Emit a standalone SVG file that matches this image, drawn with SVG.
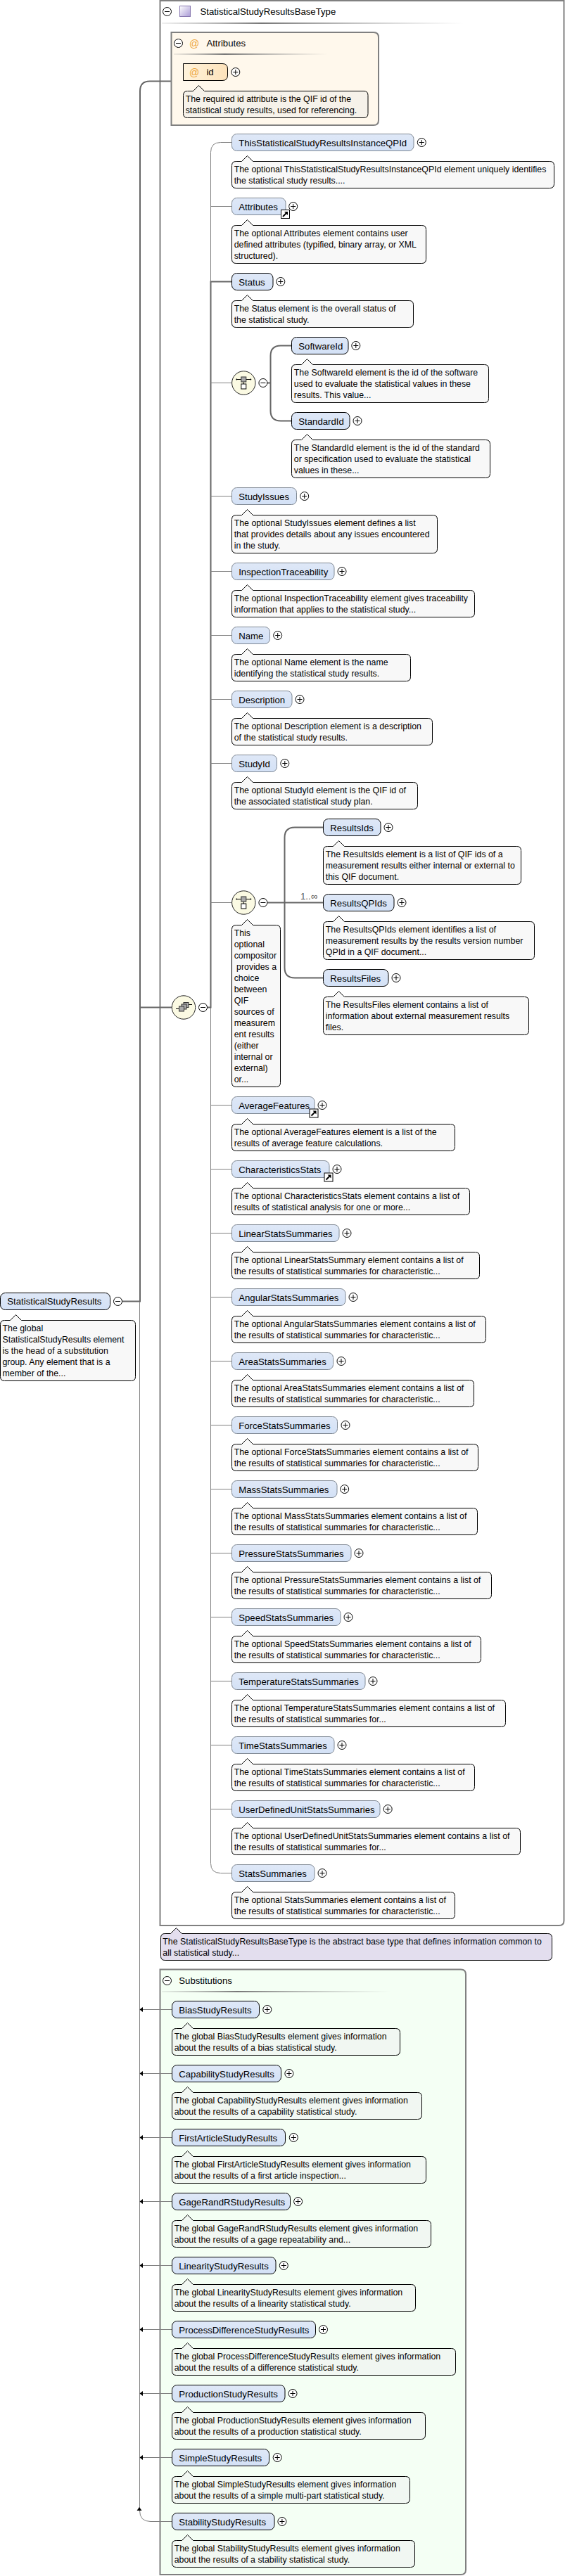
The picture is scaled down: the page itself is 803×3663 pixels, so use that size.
<svg xmlns="http://www.w3.org/2000/svg" width="803" height="3663" viewBox="0 0 803 3663">
<style>
text{font-family:"Liberation Sans",Arial,sans-serif;font-size:13.2px;fill:#000}
path[class^=doc] ~ text{font-size:12.35px}
.el{fill:url(#elg);stroke:#7f8893;stroke-width:1}
.req{fill:url(#elg);stroke:#000;stroke-width:1}
.doc{fill:#f8f8f8;stroke:#000;stroke-width:1}
.doca{fill:#f6f2ea;stroke:#000;stroke-width:1}
.docs{fill:#f1f7f2;stroke:#000;stroke-width:1}
.docp{fill:#e3deee;stroke:#000;stroke-width:1}
.box{stroke:#808080;stroke-width:2}
.thin{fill:none;stroke:#808080;stroke-width:1}
.thick{fill:none;stroke:#666;stroke-width:2}
.comp{fill:#fbfae3;stroke:#222;stroke-width:1}
.at{fill:#eda53c;font-size:14px;text-anchor:middle}
.card{fill:#555}
</style>
<defs>
<linearGradient id="elg" x1="0" y1="0" x2="0" y2="1"><stop offset="0" stop-color="#dfe8f7"/><stop offset="1" stop-color="#d3e1f6"/></linearGradient>
<linearGradient id="atg" x1="0" y1="0" x2="1" y2="0"><stop offset="0" stop-color="#fff3dc"/><stop offset="1" stop-color="#fde2ba"/></linearGradient>
<linearGradient id="ico" x1="0" y1="0" x2="1" y2="1"><stop offset="0" stop-color="#fff"/><stop offset="1" stop-color="#a99ad6"/></linearGradient>
<linearGradient id="rule" x1="0" y1="0" x2="1" y2="0"><stop offset="0" stop-color="#999" stop-opacity=".15"/><stop offset=".33" stop-color="#777"/><stop offset="1" stop-color="#aaa" stop-opacity="0"/></linearGradient>
<g id="plus"><circle r="6" fill="#fff" stroke="#000"/><path d="M-3.5 0H3.5M0-3.5V3.5" stroke="#000" fill="none"/></g>
<g id="minus"><circle r="6" fill="#fff" stroke="#000"/><path d="M-3.5 0H3.5" stroke="#000" fill="none"/></g>
<g id="link"><rect x=".5" y=".5" width="12" height="12" fill="#fff" stroke="#000"/><path d="M3 10L8 5" stroke="#000" stroke-width="2" fill="none"/><path d="M5 3H10V8Z" fill="#000"/></g>
<g id="seqico"><ellipse rx="16.7" ry="16.7" class="comp"/><path d="M-10-5H10" stroke="#000"/><path d="M0 -1V2" stroke="#000"/><rect x="-3.5" y="-8.5" width="7" height="7" fill="#aaa" stroke="#333"/><rect x="-3.5" y="1.5" width="7" height="7" fill="#fff" stroke="#000"/><circle cx="-10" cy="-5" r="1" fill="#000"/><circle cx="10" cy="-5" r="1" fill="#000"/></g>
<g id="mainico"><ellipse rx="16.7" ry="16.7" class="comp"/><path d="M-11 2H-6M6-4H12" stroke="#000"/><rect x="0" y="-7" width="7" height="7" fill="#aaa" stroke="#333"/><rect x="-3" y="-4.5" width="7" height="7" fill="#aaa" stroke="#333"/><rect x="-6.5" y="-1.5" width="7" height="7" fill="#aaa" stroke="#333"/></g>
<path id="arr" d="M0 0L4.5-3.5V3.5Z" fill="#000"/>
</defs>

<g id="boxes">
<g id="type-box"><path class="box" fill="#fff" d="M227.5 1H801.5V2731Q801.5 2738 794.5 2738H227.5Z"/>
<use href="#minus" x="237.5" y="16.5"/>
<rect x="255.5" y="8.5" width="15" height="15" fill="url(#ico)" stroke="#8878b0"/>
<text x="284.5" y="21">StatisticalStudyResultsBaseType</text>
<rect x="230" y="32" width="430" height="2" fill="url(#rule)"/></g>
<g id="subst-box"><path class="box" fill="#f4fff4" d="M227.5 2800.5H655Q662 2800.5 662 2807.5V3654Q662 3661 655 3661H227.5Z"/>
<use href="#minus" x="237.5" y="2816.5"/>
<text x="254.3" y="2821">Substitutions</text>
<rect x="230" y="2831" width="325" height="2" fill="url(#rule)"/></g>
</g>

<g id="connectors">
<path class="thick" d="M243 115.5H213Q199 115.5 199 129.5V1850.5H173"/>
<path class="thick" stroke="#777" d="M199 1432.5H244"/>
<path class="thin" d="M198.5 1851V3570"/>
<path class="thin" d="M330 202.5H313.5Q299.5 202.5 299.5 216.5V2649.5Q299.5 2663.5 313.5 2663.5H330"/>
<path class="thick" d="M330 400.5H299.5V1432.5H294"/>
<path class="thin" d="M299.5 293.5H330M299.5 544.5H330M299.5 705.5H330M299.5 812.5H330M299.5 903.5H330M299.5 994.5H330M299.5 1085.5H330M299.5 1283.5H330M299.5 1571.5H330M299.5 1662.5H330M299.5 1753.5H330M299.5 1844.5H330M299.5 1935.5H330M299.5 2026.5H330M299.5 2117.5H330M299.5 2208.5H330M299.5 2299.5H330M299.5 2390.5H330M299.5 2481.5H330M299.5 2572.5H330"/>
<path class="thick" d="M415 491.5H399Q384.5 491.5 384.5 506V584Q384.5 598.5 399 598.5H415M380 544.5H384.5"/>
<path class="thick" d="M460 1176.5H419Q404.5 1176.5 404.5 1191V1376Q404.5 1390.5 419 1390.5H460M380 1283.5H460"/>
<path class="thin" d="M203 2857.5H244.5M203 2948.5H244.5M203 3039.5H244.5M203 3130.5H244.5M203 3221.5H244.5M203 3312.5H244.5M203 3403.5H244.5M203 3494.5H244.5"/>
<path class="thin" d="M198.5 3570Q198.5 3585.5 214 3585.5H244.5"/>
<use href="#arr" x="198.5" y="2857.5"/><use href="#arr" x="198.5" y="2948.5"/><use href="#arr" x="198.5" y="3039.5"/><use href="#arr" x="198.5" y="3130.5"/><use href="#arr" x="198.5" y="3221.5"/><use href="#arr" x="198.5" y="3312.5"/><use href="#arr" x="198.5" y="3403.5"/><use href="#arr" x="198.5" y="3494.5"/>
<path d="M198 3565L194.5 3570H201.5Z" fill="#000"/>
<text class="card" x="427" y="1279">1..∞</text>
</g>

<g id="n-root"><rect class="req" x="0.5" y="1838.5" width="156" height="24" rx="7"/><text x="10.3" y="1855">StatisticalStudyResults</text><use href="#minus" x="167.5" y="1850.5"/>
<path class="doc" d="M6.5 1877.5h8l8-8 8 8H186.5q6 0 6 6v74q0 6-6 6H6.5q-6 0-6-6v-74q0-6 6-6z"/><text x="3.5" y="1892.5">The global</text><text x="3.5" y="1908.5">StatisticalStudyResults element</text><text x="3.5" y="1924.5">is the head of a substitution</text><text x="3.5" y="1940.5">group. Any element that is a</text><text x="3.5" y="1956.5">member of the...</text></g>

<g id="n-attributes-box"><path class="box" fill="#fff8ec" d="M243.5 46H531Q538 46 538 53V171Q538 178 531 178H243.5Z"/>
<use href="#minus" x="253.5" y="61.5"/><text class="at" x="276" y="67">@</text><text x="293.4" y="66">Attributes</text>
<rect x="247" y="76" width="219" height="2" fill="url(#rule)"/></g>
<g id="n-id"><path fill="url(#atg)" stroke="#000" d="M260.5 90.5H316Q323.5 90.5 323.5 98V107Q323.5 114.5 316 114.5H260.5Z"/><text class="at" x="276" y="108">@</text><text x="293.4" y="107">id</text><use href="#plus" x="334.8" y="102.5"/>
<path class="doca" d="M266.5 129.5h8l8-8 8 8H517q6 0 6 6v26q0 6-6 6H266.5q-6 0-6-6v-26q0-6 6-6z"/><text x="263.7" y="144.5">The required id attribute is the QIF id of the</text><text x="263.7" y="160.5">statistical study results, used for referencing.</text></g>

<g id="n-this"><rect class="el" x="329.5" y="190.5" width="258.5" height="24" rx="7"/><text x="339.2" y="207.5">ThisStatisticalStudyResultsInstanceQPId</text><use href="#plus" x="599.3" y="202.5"/>
<path class="doc" d="M335.5 229.5h8l8-8 8 8H781.5q6 0 6 6v26q0 6-6 6H335.5q-6 0-6-6v-26q0-6 6-6z"/><text x="332.7" y="244.5">The optional ThisStatisticalStudyResultsInstanceQPId element uniquely identifies</text><text x="332.7" y="260.5">the statistical study results....</text></g>
<g id="n-attributes"><rect class="el" x="329.5" y="281.5" width="76.5" height="24" rx="7"/><text x="339.2" y="298.5">Attributes</text><use href="#plus" x="416.7" y="293.5"/><use href="#link" x="399" y="298"/>
<path class="doc" d="M335.5 320.5h8l8-8 8 8H599.5q6 0 6 6v42q0 6-6 6H335.5q-6 0-6-6v-42q0-6 6-6z"/><text x="332.7" y="335.5">The optional Attributes element contains user</text><text x="332.7" y="351.5">defined attributes (typified, binary array, or XML</text><text x="332.7" y="367.5">structured).</text></g>
<g id="n-status"><rect class="req" x="329.5" y="388.5" width="58.5" height="24" rx="7"/><text x="339.2" y="405.5">Status</text><use href="#plus" x="398.8" y="400.5"/>
<path class="doc" d="M335.5 427.5h8l8-8 8 8H581.5q6 0 6 6v26q0 6-6 6H335.5q-6 0-6-6v-26q0-6 6-6z"/><text x="332.7" y="442.5">The Status element is the overall status of</text><text x="332.7" y="458.5">the statistical study.</text></g>
<g id="n-comp1"><use href="#seqico" x="346.3" y="544.5"/><use href="#minus" x="373.9" y="544.5"/></g>
<g id="n-softwareid"><rect class="req" x="414.5" y="479.5" width="80.5" height="24" rx="7"/><text x="424.3" y="496.5">SoftwareId</text><use href="#plus" x="505.8" y="491.5"/>
<path class="doc" d="M420.5 518.5h8l8-8 8 8H688.5q6 0 6 6v42q0 6-6 6H420.5q-6 0-6-6v-42q0-6 6-6z"/><text x="417.8" y="533.5">The SoftwareId element is the id of the software</text><text x="417.8" y="549.5">used to evaluate the statistical values in these</text><text x="417.8" y="565.5">results. This value...</text></g>
<g id="n-standardid"><rect class="req" x="414.5" y="586.5" width="82.5" height="24" rx="7"/><text x="424.3" y="603.5">StandardId</text><use href="#plus" x="508" y="598.5"/>
<path class="doc" d="M420.5 625.5h8l8-8 8 8H690.5q6 0 6 6v42q0 6-6 6H420.5q-6 0-6-6v-42q0-6 6-6z"/><text x="417.8" y="640.5">The StandardId element is the id of the standard</text><text x="417.8" y="656.5">or specification used to evaluate the statistical</text><text x="417.8" y="672.5">values in these...</text></g>
<g id="n-studyissues"><rect class="el" x="329.5" y="693.5" width="92" height="24" rx="7"/><text x="339.2" y="710.5">StudyIssues</text><use href="#plus" x="432.7" y="705.5"/>
<path class="doc" d="M335.5 732.5h8l8-8 8 8H615.5q6 0 6 6v42q0 6-6 6H335.5q-6 0-6-6v-42q0-6 6-6z"/><text x="332.7" y="747.5">The optional StudyIssues element defines a list</text><text x="332.7" y="763.5">that provides details about any issues encountered</text><text x="332.7" y="779.5">in the study.</text></g>
<g id="n-inspectiontraceability"><rect class="el" x="329.5" y="800.5" width="145.5" height="24" rx="7"/><text x="339.2" y="817.5">InspectionTraceability</text><use href="#plus" x="486" y="812.5"/>
<path class="doc" d="M335.5 839.5h8l8-8 8 8H668.5q6 0 6 6v26q0 6-6 6H335.5q-6 0-6-6v-26q0-6 6-6z"/><text x="332.7" y="854.5">The optional InspectionTraceability element gives traceability</text><text x="332.7" y="870.5">information that applies to the statistical study...</text></g>
<g id="n-name"><rect class="el" x="329.5" y="891.5" width="54" height="24" rx="7"/><text x="339.2" y="908.5">Name</text><use href="#plus" x="394.7" y="903.5"/>
<path class="doc" d="M335.5 930.5h8l8-8 8 8H577.5q6 0 6 6v26q0 6-6 6H335.5q-6 0-6-6v-26q0-6 6-6z"/><text x="332.7" y="945.5">The optional Name element is the name</text><text x="332.7" y="961.5">identifying the statistical study results.</text></g>
<g id="n-description"><rect class="el" x="329.5" y="982.5" width="85.5" height="24" rx="7"/><text x="339.2" y="999.5">Description</text><use href="#plus" x="426" y="994.5"/>
<path class="doc" d="M335.5 1021.5h8l8-8 8 8H608.5q6 0 6 6v26q0 6-6 6H335.5q-6 0-6-6v-26q0-6 6-6z"/><text x="332.7" y="1036.5">The optional Description element is a description</text><text x="332.7" y="1052.5">of the statistical study results.</text></g>
<g id="n-studyid"><rect class="el" x="329.5" y="1073.5" width="64" height="24" rx="7"/><text x="339.2" y="1090.5">StudyId</text><use href="#plus" x="404.8" y="1085.5"/>
<path class="doc" d="M335.5 1112.5h8l8-8 8 8H587.5q6 0 6 6v26q0 6-6 6H335.5q-6 0-6-6v-26q0-6 6-6z"/><text x="332.7" y="1127.5">The optional StudyId element is the QIF id of</text><text x="332.7" y="1143.5">the associated statistical study plan.</text></g>
<g id="n-comp2"><use href="#seqico" x="346.3" y="1283.5"/><use href="#minus" x="373.9" y="1283.5"/>
<path class="doc" d="M335.5 1315.5h8l8-8 8 8H392.5q6 0 6 6v218q0 6-6 6H335.5q-6 0-6-6v-218q0-6 6-6z"/><text x="332.7" y="1330.5">This</text><text x="332.7" y="1346.5">optional</text><text x="332.7" y="1362.5">compositor</text><text x="332.7" y="1378.5" xml:space="preserve"> provides a</text><text x="332.7" y="1394.5">choice</text><text x="332.7" y="1410.5">between</text><text x="332.7" y="1426.5">QIF</text><text x="332.7" y="1442.5">sources of</text><text x="332.7" y="1458.5">measurem</text><text x="332.7" y="1474.5">ent results</text><text x="332.7" y="1490.5">(either</text><text x="332.7" y="1506.5">internal or</text><text x="332.7" y="1522.5">external)</text><text x="332.7" y="1538.5">or...</text></g>
<g id="n-resultsids"><rect class="req" x="459.5" y="1164.5" width="81.5" height="24" rx="7"/><text x="469.3" y="1181.5">ResultsIds</text><use href="#plus" x="552" y="1176.5"/>
<path class="doc" d="M465.5 1203.5h8l8-8 8 8H734.5q6 0 6 6v42q0 6-6 6H465.5q-6 0-6-6v-42q0-6 6-6z"/><text x="462.8" y="1218.5">The ResultsIds element is a list of QIF ids of a</text><text x="462.8" y="1234.5">measurement results either internal or external to</text><text x="462.8" y="1250.5">this QIF document.</text></g>
<g id="n-resultsqpids"><rect class="req" x="459.5" y="1271.5" width="100.5" height="24" rx="7"/><text x="469.3" y="1288.5">ResultsQPIds</text><use href="#plus" x="571" y="1283.5"/>
<path class="doc" d="M465.5 1310.5h8l8-8 8 8H753.5q6 0 6 6v42q0 6-6 6H465.5q-6 0-6-6v-42q0-6 6-6z"/><text x="462.8" y="1325.5">The ResultsQPIds element identifies a list of</text><text x="462.8" y="1341.5">measurement results by the results version number</text><text x="462.8" y="1357.5">QPId in a QIF document...</text></g>
<g id="n-resultsfiles"><rect class="req" x="459.5" y="1378.5" width="92.5" height="24" rx="7"/><text x="469.3" y="1395.5">ResultsFiles</text><use href="#plus" x="563" y="1390.5"/>
<path class="doc" d="M465.5 1417.5h8l8-8 8 8H745.5q6 0 6 6v42q0 6-6 6H465.5q-6 0-6-6v-42q0-6 6-6z"/><text x="462.8" y="1432.5">The ResultsFiles element contains a list of</text><text x="462.8" y="1448.5">information about external measurement results</text><text x="462.8" y="1464.5">files.</text></g>
<g id="n-main-comp"><use href="#mainico" x="261" y="1432.5"/><use href="#minus" x="288.5" y="1432.5"/></g>
<g id="n-averagefeatures"><rect class="el" x="329.5" y="1559.5" width="117.5" height="24" rx="7"/><text x="339.2" y="1576.5">AverageFeatures</text><use href="#plus" x="458" y="1571.5"/><use href="#link" x="439.5" y="1576.5"/>
<path class="doc" d="M335.5 1598.5h8l8-8 8 8H640.5q6 0 6 6v26q0 6-6 6H335.5q-6 0-6-6v-26q0-6 6-6z"/><text x="332.7" y="1613.5">The optional AverageFeatures element is a list of the</text><text x="332.7" y="1629.5">results of average feature calculations.</text></g>
<g id="n-characteristicsstats"><rect class="el" x="329.5" y="1650.5" width="138.5" height="24" rx="7"/><text x="339.2" y="1667.5">CharacteristicsStats</text><use href="#plus" x="479" y="1662.5"/><use href="#link" x="460.5" y="1667.5"/>
<path class="doc" d="M335.5 1689.5h8l8-8 8 8H661.5q6 0 6 6v26q0 6-6 6H335.5q-6 0-6-6v-26q0-6 6-6z"/><text x="332.7" y="1704.5">The optional CharacteristicsStats element contains a list of</text><text x="332.7" y="1720.5">results of statistical analysis for one or more...</text></g>
<g id="n-linear"><rect class="el" x="329.5" y="1741.5" width="152.5" height="24" rx="7"/><text x="339.2" y="1758.5">LinearStatsSummaries</text><use href="#plus" x="493" y="1753.5"/>
<path class="doc" d="M335.5 1780.5h8l8-8 8 8H675.5q6 0 6 6v26q0 6-6 6H335.5q-6 0-6-6v-26q0-6 6-6z"/><text x="332.7" y="1795.5">The optional LinearStatsSummary element contains a list of</text><text x="332.7" y="1811.5">the results of statistical summaries for characteristic...</text></g>
<g id="n-angular"><rect class="el" x="329.5" y="1832.5" width="161.5" height="24" rx="7"/><text x="339.2" y="1849.5">AngularStatsSummaries</text><use href="#plus" x="502" y="1844.5"/>
<path class="doc" d="M335.5 1871.5h8l8-8 8 8H684.5q6 0 6 6v26q0 6-6 6H335.5q-6 0-6-6v-26q0-6 6-6z"/><text x="332.7" y="1886.5">The optional AngularStatsSummaries element contains a list of</text><text x="332.7" y="1902.5">the results of statistical summaries for characteristic...</text></g>
<g id="n-area"><rect class="el" x="329.5" y="1923.5" width="144" height="24" rx="7"/><text x="339.2" y="1940.5">AreaStatsSummaries</text><use href="#plus" x="485" y="1935.5"/>
<path class="doc" d="M335.5 1962.5h8l8-8 8 8H667.5q6 0 6 6v26q0 6-6 6H335.5q-6 0-6-6v-26q0-6 6-6z"/><text x="332.7" y="1977.5">The optional AreaStatsSummaries element contains a list of</text><text x="332.7" y="1993.5">the results of statistical summaries for characteristic...</text></g>
<g id="n-force"><rect class="el" x="329.5" y="2014.5" width="150" height="24" rx="7"/><text x="339.2" y="2031.5">ForceStatsSummaries</text><use href="#plus" x="491" y="2026.5"/>
<path class="doc" d="M335.5 2053.5h8l8-8 8 8H673.5q6 0 6 6v26q0 6-6 6H335.5q-6 0-6-6v-26q0-6 6-6z"/><text x="332.7" y="2068.5">The optional ForceStatsSummaries element contains a list of</text><text x="332.7" y="2084.5">the results of statistical summaries for characteristic...</text></g>
<g id="n-mass"><rect class="el" x="329.5" y="2105.5" width="149.5" height="24" rx="7"/><text x="339.2" y="2122.5">MassStatsSummaries</text><use href="#plus" x="489.7" y="2117.5"/>
<path class="doc" d="M335.5 2144.5h8l8-8 8 8H672.5q6 0 6 6v26q0 6-6 6H335.5q-6 0-6-6v-26q0-6 6-6z"/><text x="332.7" y="2159.5">The optional MassStatsSummaries element contains a list of</text><text x="332.7" y="2175.5">the results of statistical summaries for characteristic...</text></g>
<g id="n-pressure"><rect class="el" x="329.5" y="2196.5" width="169.5" height="24" rx="7"/><text x="339.2" y="2213.5">PressureStatsSummaries</text><use href="#plus" x="510" y="2208.5"/>
<path class="doc" d="M335.5 2235.5h8l8-8 8 8H692.5q6 0 6 6v26q0 6-6 6H335.5q-6 0-6-6v-26q0-6 6-6z"/><text x="332.7" y="2250.5">The optional PressureStatsSummaries element contains a list of</text><text x="332.7" y="2266.5">the results of statistical summaries for characteristic...</text></g>
<g id="n-speed"><rect class="el" x="329.5" y="2287.5" width="154.5" height="24" rx="7"/><text x="339.2" y="2304.5">SpeedStatsSummaries</text><use href="#plus" x="495" y="2299.5"/>
<path class="doc" d="M335.5 2326.5h8l8-8 8 8H677.5q6 0 6 6v26q0 6-6 6H335.5q-6 0-6-6v-26q0-6 6-6z"/><text x="332.7" y="2341.5">The optional SpeedStatsSummaries element contains a list of</text><text x="332.7" y="2357.5">the results of statistical summaries for characteristic...</text></g>
<g id="n-temperature"><rect class="el" x="329.5" y="2378.5" width="189.5" height="24" rx="7"/><text x="339.2" y="2395.5">TemperatureStatsSummaries</text><use href="#plus" x="530" y="2390.5"/>
<path class="doc" d="M335.5 2417.5h8l8-8 8 8H712.5q6 0 6 6v26q0 6-6 6H335.5q-6 0-6-6v-26q0-6 6-6z"/><text x="332.7" y="2432.5">The optional TemperatureStatsSummaries element contains a list of</text><text x="332.7" y="2448.5">the results of statistical summaries for...</text></g>
<g id="n-time"><rect class="el" x="329.5" y="2469.5" width="145.5" height="24" rx="7"/><text x="339.2" y="2486.5">TimeStatsSummaries</text><use href="#plus" x="486" y="2481.5"/>
<path class="doc" d="M335.5 2508.5h8l8-8 8 8H668.5q6 0 6 6v26q0 6-6 6H335.5q-6 0-6-6v-26q0-6 6-6z"/><text x="332.7" y="2523.5">The optional TimeStatsSummaries element contains a list of</text><text x="332.7" y="2539.5">the results of statistical summaries for characteristic...</text></g>
<g id="n-userdefined"><rect class="el" x="329.5" y="2560.5" width="210.5" height="24" rx="7"/><text x="339.2" y="2577.5">UserDefinedUnitStatsSummaries</text><use href="#plus" x="551.2" y="2572.5"/>
<path class="doc" d="M335.5 2599.5h8l8-8 8 8H733.5q6 0 6 6v26q0 6-6 6H335.5q-6 0-6-6v-26q0-6 6-6z"/><text x="332.7" y="2614.5">The optional UserDefinedUnitStatsSummaries element contains a list of</text><text x="332.7" y="2630.5">the results of statistical summaries for...</text></g>
<g id="n-stats"><rect class="el" x="329.5" y="2651.5" width="117.5" height="24" rx="7"/><text x="339.2" y="2668.5">StatsSummaries</text><use href="#plus" x="458" y="2663.5"/>
<path class="doc" d="M335.5 2690.5h8l8-8 8 8H640.5q6 0 6 6v26q0 6-6 6H335.5q-6 0-6-6v-26q0-6 6-6z"/><text x="332.7" y="2705.5">The optional StatsSummaries element contains a list of</text><text x="332.7" y="2721.5">the results of statistical summaries for characteristic...</text></g>
<g id="n-type-doc"><path class="docp" d="M234.5 2749.5h8l8-8 8 8H778.5q6 0 6 6v26q0 6-6 6H234.5q-6 0-6-6v-26q0-6 6-6z"/><text x="231.3" y="2764.5">The StatisticalStudyResultsBaseType is the abstract base type that defines information common to</text><text x="231.3" y="2780.5">all statistical study...</text></g>

<g id="n-bias"><rect class="req" x="244.5" y="2845.5" width="124" height="24" rx="7"/><text x="254.2" y="2862.5">BiasStudyResults</text><use href="#plus" x="379.8" y="2857.5"/>
<path class="docs" d="M250.5 2884.5h8l8-8 8 8H562.5q6 0 6 6v26q0 6-6 6H250.5q-6 0-6-6v-26q0-6 6-6z"/><text x="247.7" y="2899.5">The global BiasStudyResults element gives information</text><text x="247.7" y="2915.5">about the results of a bias statistical study.</text></g>
<g id="n-capability"><rect class="req" x="244.5" y="2936.5" width="155" height="24" rx="7"/><text x="254.2" y="2953.5">CapabilityStudyResults</text><use href="#plus" x="410.9" y="2948.5"/>
<path class="docs" d="M250.5 2975.5h8l8-8 8 8H593.5q6 0 6 6v26q0 6-6 6H250.5q-6 0-6-6v-26q0-6 6-6z"/><text x="247.7" y="2990.5">The global CapabilityStudyResults element gives information</text><text x="247.7" y="3006.5">about the results of a capability statistical study.</text></g>
<g id="n-firstarticle"><rect class="req" x="244.5" y="3027.5" width="161" height="24" rx="7"/><text x="254.2" y="3044.5">FirstArticleStudyResults</text><use href="#plus" x="417.3" y="3039.5"/>
<path class="docs" d="M250.5 3066.5h8l8-8 8 8H599.5q6 0 6 6v26q0 6-6 6H250.5q-6 0-6-6v-26q0-6 6-6z"/><text x="247.7" y="3081.5">The global FirstArticleStudyResults element gives information</text><text x="247.7" y="3097.5">about the results of a first article inspection...</text></g>
<g id="n-gagerandr"><rect class="req" x="244.5" y="3118.5" width="168" height="24" rx="7"/><text x="254.2" y="3135.5">GageRandRStudyResults</text><use href="#plus" x="423.6" y="3130.5"/>
<path class="docs" d="M250.5 3157.5h8l8-8 8 8H606.5q6 0 6 6v26q0 6-6 6H250.5q-6 0-6-6v-26q0-6 6-6z"/><text x="247.7" y="3172.5">The global GageRandRStudyResults element gives information</text><text x="247.7" y="3188.5">about the results of a gage repeatability and...</text></g>
<g id="n-linearity"><rect class="req" x="244.5" y="3209.5" width="147.5" height="24" rx="7"/><text x="254.2" y="3226.5">LinearityStudyResults</text><use href="#plus" x="403.3" y="3221.5"/>
<path class="docs" d="M250.5 3248.5h8l8-8 8 8H584.5q6 0 6 6v26q0 6-6 6H250.5q-6 0-6-6v-26q0-6 6-6z"/><text x="247.7" y="3263.5">The global LinearityStudyResults element gives information</text><text x="247.7" y="3279.5">about the results of a linearity statistical study.</text></g>
<g id="n-processdifference"><rect class="req" x="244.5" y="3300.5" width="204" height="24" rx="7"/><text x="254.2" y="3317.5">ProcessDifferenceStudyResults</text><use href="#plus" x="459.5" y="3312.5"/>
<path class="docs" d="M250.5 3339.5h8l8-8 8 8H641.5q6 0 6 6v26q0 6-6 6H250.5q-6 0-6-6v-26q0-6 6-6z"/><text x="247.7" y="3354.5">The global ProcessDifferenceStudyResults element gives information</text><text x="247.7" y="3370.5">about the results of a difference statistical study.</text></g>
<g id="n-production"><rect class="req" x="244.5" y="3391.5" width="160.5" height="24" rx="7"/><text x="254.2" y="3408.5">ProductionStudyResults</text><use href="#plus" x="416" y="3403.5"/>
<path class="docs" d="M250.5 3430.5h8l8-8 8 8H598.5q6 0 6 6v26q0 6-6 6H250.5q-6 0-6-6v-26q0-6 6-6z"/><text x="247.7" y="3445.5">The global ProductionStudyResults element gives information</text><text x="247.7" y="3461.5">about the results of a production statistical study.</text></g>
<g id="n-simple"><rect class="req" x="244.5" y="3482.5" width="138" height="24" rx="7"/><text x="254.2" y="3499.5">SimpleStudyResults</text><use href="#plus" x="394.2" y="3494.5"/>
<path class="docs" d="M250.5 3521.5h8l8-8 8 8H576.5q6 0 6 6v26q0 6-6 6H250.5q-6 0-6-6v-26q0-6 6-6z"/><text x="247.7" y="3536.5">The global SimpleStudyResults element gives information</text><text x="247.7" y="3552.5">about the results of a simple multi-part statistical study.</text></g>
<g id="n-stability"><rect class="req" x="244.5" y="3573.5" width="145.5" height="24" rx="7"/><text x="254.2" y="3590.5">StabilityStudyResults</text><use href="#plus" x="400.9" y="3585.5"/>
<path class="docs" d="M250.5 3612.5h8l8-8 8 8H583.5q6 0 6 6v26q0 6-6 6H250.5q-6 0-6-6v-26q0-6 6-6z"/><text x="247.7" y="3627.5">The global StabilityStudyResults element gives information</text><text x="247.7" y="3643.5">about the results of a stability statistical study.</text></g>
</svg>
